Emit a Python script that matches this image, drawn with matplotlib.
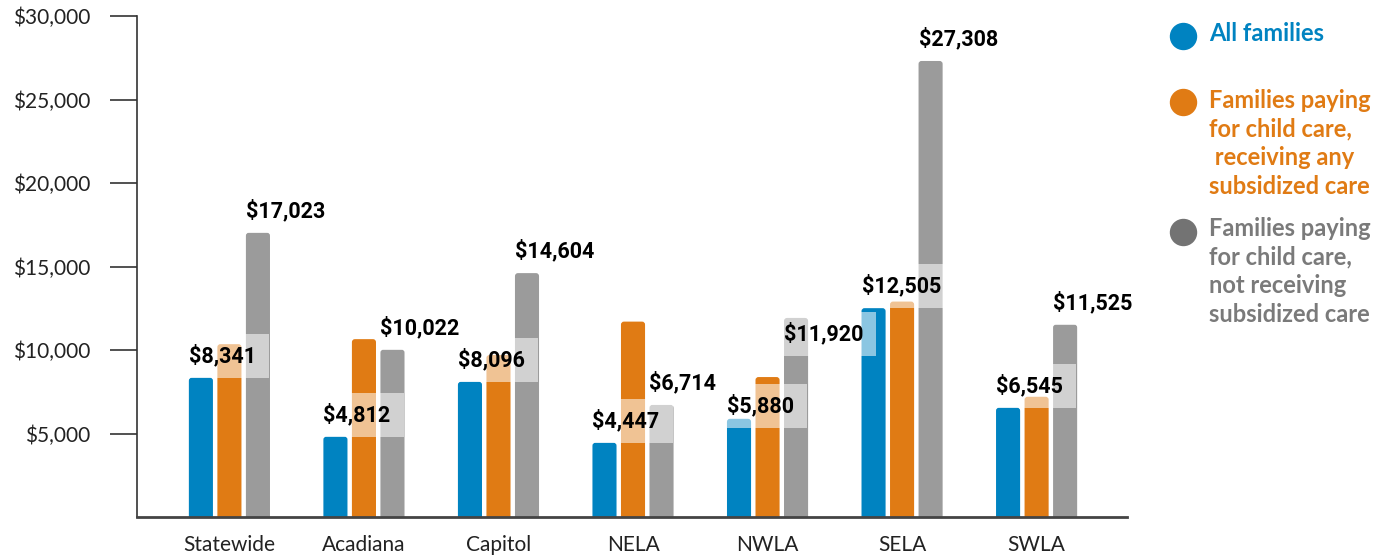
import matplotlib
matplotlib.use("Agg")
import matplotlib.pyplot as plt
from matplotlib.lines import Line2D
from matplotlib.patches import FancyBboxPatch, Rectangle
from matplotlib.transforms import offset_copy
import numpy as np

# Values
regions = ["Statewide", "Acadiana", "Capitol", "NELA", "NWLA", "SELA", "SWLA"]
all_families = [8341, 4812, 8096, 4447, 5880, 12505, 6545]
paying_subsidized = [10350, 10650, 9700, 11700, 8380, 12900, 7200]
paying_not_subsidized = [17023, 10022, 14604, 6714, 11920, 27308, 11525]
y_ticks = [5000, 10000, 15000, 20000, 25000, 30000]
legend_labels = [
    "All families",
    "Families paying\nfor child care,\n receiving any\nsubsidized care",
    "Families paying\nfor child care,\nnot receiving\nsubsidized care",
]

BLUE = "#0083C1"
ORANGE = "#E07B14"
GRAY = "#9B9B9B"
DARK = "#222222"

W, H, DPI = 1389, 556, 100


def px(x):
    """pixels -> points"""
    return x * 72.0 / DPI


def main():
    fig = plt.figure(figsize=(W / DPI, H / DPI), dpi=DPI)
    left, right, top, bottom = 137, 1127, 16, 517
    ax = fig.add_axes([left / W, 1 - bottom / H, (right - left) / W, (bottom - top) / H])
    ax.set_xlim(-0.687, 6.672)
    ax.set_ylim(0, 30000)

    x = np.arange(len(regions))
    pitch = 0.212
    width = 0.179
    series = [all_families, paying_subsidized, paying_not_subsidized]
    colors = [BLUE, ORANGE, GRAY]

    # bars with slightly rounded tops
    xunit = (right - left) / (ax.get_xlim()[1] - ax.get_xlim()[0])   # px per x unit
    yunit = (bottom - top) / 30000.0                                  # px per y unit
    r = 3.0 / xunit
    aspect = xunit / yunit
    for k, (vals, col) in enumerate(zip(series, colors)):
        for i, v in enumerate(vals):
            x0 = x[i] + (k - 1) * pitch - width / 2
            ax.add_patch(FancyBboxPatch((x0, -200), width, v + 200,
                                        boxstyle="round,pad=0,rounding_size={}".format(r),
                                        mutation_aspect=aspect, fc=col, ec="none", zorder=2))

    # data labels: left-aligned on the bar, translucent white box resting on the bar top
    label_font = dict(family="Roboto", weight="bold", size=15.5, color="black")
    shifts = {(0, 4): -9, (2, 4): -38}  # pixels, labels moved to avoid collisions
    box_h, box_extra = 44, 13
    texts = []
    for k in (0, 2):
        vals = series[k]
        for i, v in enumerate(vals):
            dy = shifts.get((k, i), 0)
            t = ax.annotate("${:,}".format(v),
                            xy=(x[i] + (k - 1) * pitch - width / 2, v),
                            xytext=(0, px(box_h / 2 + dy)), textcoords="offset points",
                            ha="left", va="center", zorder=4, **label_font)
            texts.append(t)

    fig.canvas.draw()
    inv = ax.transData.inverted()
    for t in texts:
        bb = t.get_window_extent()
        cy = (bb.y0 + bb.y1) / 2
        (bx0, by0) = inv.transform((bb.x0, cy - box_h / 2))
        (bx1, by1) = inv.transform((bb.x1 + box_extra, cy + box_h / 2))
        ax.add_patch(Rectangle((bx0, by0), bx1 - bx0, by1 - by0, fc="white",
                               ec="none", alpha=0.55, zorder=3))

    ax.set_yticks(y_ticks)
    ax.set_yticklabels(["${:,}".format(t) for t in y_ticks],
                       family="Lato", size=15, color=DARK)
    ax.set_xticks(x)
    ax.set_xticklabels(regions, family="Lato", size=15, color=DARK)

    for s in ("top", "right"):
        ax.spines[s].set_visible(False)
    ax.spines["left"].set_color("#333333")
    ax.spines["left"].set_linewidth(1.2)
    ax.spines["bottom"].set_color("#444444")
    ax.spines["bottom"].set_linewidth(2)
    ax.spines["bottom"].set_zorder(5)
    ax.tick_params(axis="y", length=px(27), width=1.2, color="#333333", pad=px(20))
    ax.tick_params(axis="x", length=0, pad=px(18))

    # legend
    legend_colors = [BLUE, ORANGE, "#737373"]
    text_colors = [BLUE, ORANGE, "#7A7A7A"]
    dot_y = [36, 102, 232]
    text_top = [22, 89, 217]
    for lab, dc, tc, dyc, ty in zip(legend_labels, legend_colors, text_colors, dot_y, text_top):
        fig.add_artist(Line2D([1183 / W], [1 - dyc / H], marker="o", markersize=px(26),
                              color=dc, linestyle="none", transform=fig.transFigure))
        fig.text(1209 / W, 1 - ty / H, lab, family="Lato", weight="bold", size=17,
                 color=tc, ha="left", va="top", linespacing=1.29)

    fig.savefig("out.png", dpi=DPI)
    plt.close("all")


if __name__ == "__main__":
    main()
